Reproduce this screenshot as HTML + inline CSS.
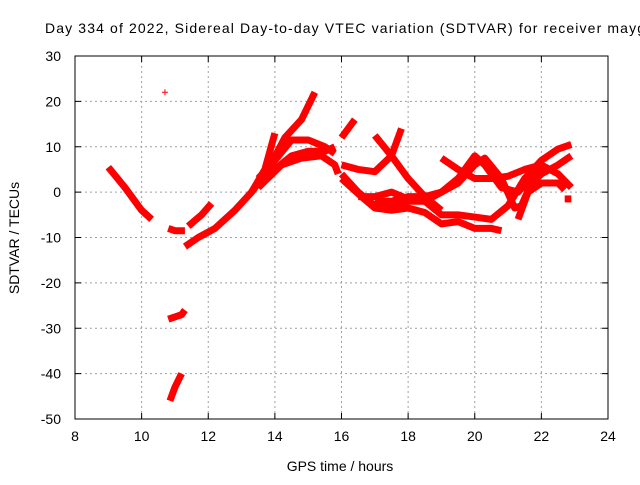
<!DOCTYPE html>
<html><head><meta charset="utf-8"><style>
body{margin:0;background:#fff;width:640px;height:480px;overflow:hidden}
svg text{font-family:"Liberation Sans",sans-serif;font-size:14px;fill:#000}
</style></head><body>
<svg id="chart" width="640" height="480">
<text x="45" y="33" textLength="600" lengthAdjust="spacing">Day 334 of 2022, Sidereal Day-to-day VTEC variation (SDTVAR) for receiver mayg</text>
<text x="340" y="471" text-anchor="middle">GPS time / hours</text>
<text transform="translate(19,238) rotate(-90)" text-anchor="middle">SDTVAR / TECUs</text>
<g id="grid"></g><g id="axes"></g><g id="marks"></g>
</svg>
<script>
const xTicks=[8,10,12,14,16,18,20,22,24];
const yTicks=[30,20,10,0,-10,-20,-30,-40,-50];
const trackHours=[
[9.0,9.5,10.0,10.3],
[10.8,11.0,11.3],
[10.8,11.2,11.3],
[10.85,11.0,11.2],
[11.4,11.8,12.1],
[11.3,11.7,12.2,12.8,13.3,13.7,14.0],
[13.3,13.8,14.3,14.8,15.2],
[13.5,14.0,14.5,15.0,15.5,15.8],
[13.5,14.0,14.5,15.0,15.5,15.8],
[13.5,14.2,14.8,15.4,15.8,15.9],
[16.0,16.4],
[16.0,16.5,17.0,17.5,17.8],
[17.0,17.5,18.0,18.5,19.0],
[16.0,16.5,17.0,17.5,18.0,18.5,19.0,19.5,20.0,20.3,20.8,21.3,21.8,22.0],
[16.0,16.6,17.0,17.5,18.0,18.5,19.0,19.5,20.0,20.5,20.8],
[16.5,17.0,17.5,18.0,18.5,19.0,19.5,20.0,20.5,21.0,21.5,22.0,22.5,22.9],
[17.0,17.5,18.0,18.5,19.0,19.5,20.0,20.3,20.8,21.2,21.4,21.7,22.0,22.5,22.9],
[19.0,19.5,20.0,20.5,21.0,21.5,22.0,22.5,22.9],
[21.3,21.6,22.0,22.5,22.7],
[22.7,22.9],
[10.7,10.72]
];
const trackValues=[
[5.5,1,-4,-6],
[-8,-8.5,-8.5],
[-28,-27,-26],
[-46,-43,-40],
[-7.5,-5,-2.5],
[-12,-10,-8,-4,0,5,13],
[0,5,12,16,22],
[3,7,11.5,11.5,10,8.5],
[2,5,8,9,9,10],
[1,6,7.5,8,6,4],
[12,16],
[6,5,4.5,8,14],
[12.5,8,3,-1,-4],
[4,0,-3,-3.5,-2,-2,0,3,8,6,1,0,4,6],
[3,-1,-3.5,-4,-3.5,-4.5,-7,-6.5,-8,-8,-8.5],
[-1,-1,0,-1.5,-2,-5,-5,-5.5,-6,-3,3,7,9.5,10.5],
[-2,-2,-1,-1,0,2,6,7.5,3,-3.5,-3,2,4,6,8],
[7.5,5,3,3,3.5,5,6,4,1],
[-6,0,2,2,0.5],
[-1.5,-1.5],
[22,22]
];
const L=75,R=608,T=56,B=419,xmin=8,xmax=24,ymin=-50,ymax=30;
const X=h=>L+(h-xmin)/(xmax-xmin)*(R-L);
const Y=v=>B-(v-ymin)/(ymax-ymin)*(B-T);
const NS="http://www.w3.org/2000/svg";
function mk(tag,attrs,parent){const e=document.createElementNS(NS,tag);for(const k in attrs)e.setAttribute(k,attrs[k]);document.getElementById(parent).appendChild(e);return e;}
xTicks.forEach(t=>{
  if(t>xmin&&t<xmax){const g=mk('line',{x1:X(t),x2:X(t),y1:T,y2:B,stroke:'#a0a0a0','stroke-dasharray':'2,3'},'grid');
  
  }
  const tk=mk('path',{d:`M${X(t)},${B}v-6M${X(t)},${T}v6`,stroke:'#000'},'axes');
  
  
  const tx=mk('text',{x:X(t),y:B+22,'text-anchor':'middle'},'axes');tx.textContent=t;
  
  
});
yTicks.forEach(t=>{
  if(t>ymin&&t<ymax){const g=mk('line',{x1:L,x2:R,y1:Y(t),y2:Y(t),stroke:'#a0a0a0','stroke-dasharray':'2,3'},'grid');
  
  }
  const tk=mk('path',{d:`M${L},${Y(t)}h6M${R},${Y(t)}h-6`,stroke:'#000'},'axes');
  
  
  const tx=mk('text',{x:L-14,y:Y(t)+5,'text-anchor':'end'},'axes');tx.textContent=t;
  
  
});
const fr=mk('rect',{x:L,y:T,width:R-L,height:B-T,fill:'none',stroke:'#000'},'axes');


trackHours.forEach((hs,i)=>{
  const vs=trackValues[i];
  const pts=hs.map((h,j)=>X(h)+','+Y(vs[j])).join(' ');
  const single=i===trackHours.length-1;
  const pl=mk('polyline',{points:pts,fill:'none',stroke:'#ff0000','stroke-width':single?1:7,'stroke-linejoin':'round','stroke-linecap':'butt'},'marks');
  
  
  if(single){const p=mk('path',{d:`M${X(hs[0])-3},${Y(vs[0])}h6M${X(hs[0])},${Y(vs[0])-3}v6`,stroke:'#ff0000'},'marks');
  
  }
});
</script>
</body></html>
